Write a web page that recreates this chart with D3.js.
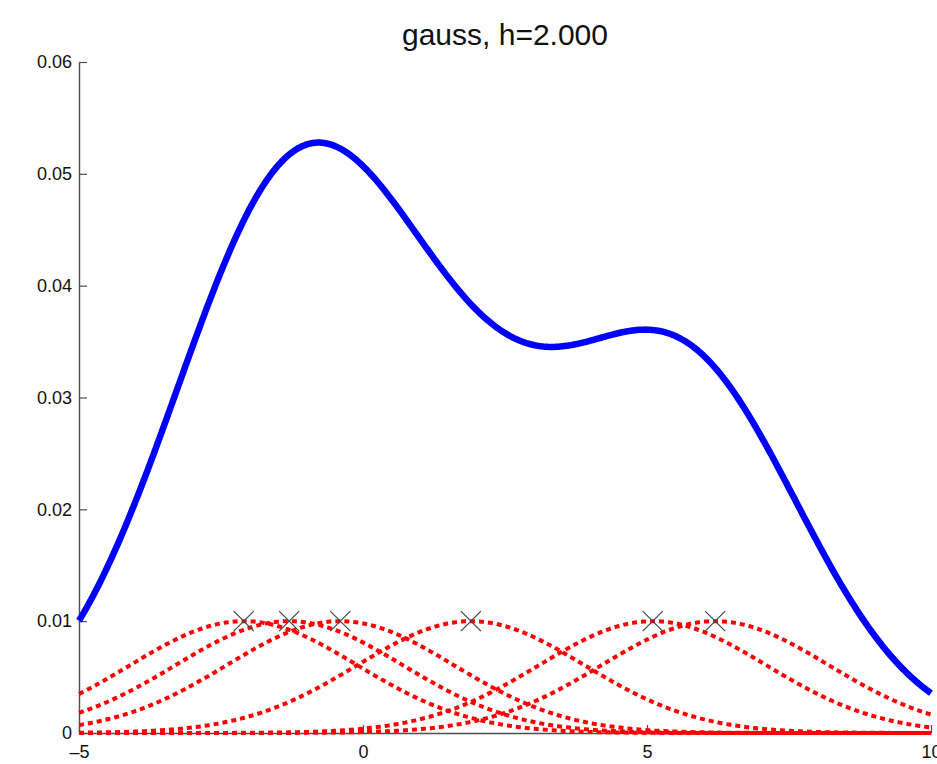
<!DOCTYPE html>
<html>
<head>
<meta charset="utf-8">
<script src="https://cdn.jsdelivr.net/npm/d3@7"></script>
<style>
  html, body { margin: 0; padding: 0; background: #fff; }
  svg { display: block; font-family: "Liberation Sans", Arial, Helvetica, sans-serif; }
</style>
</head>
<body>
<svg id="chart" width="937" height="764"></svg>
<script>
// Sample points for the Parzen-window (kernel density) estimate
const samples = [-2.1, -1.3, -0.4, 1.9, 5.1, 6.2];
// Kernel name and bandwidth
const kernelName = "gauss";
const bandwidth = 2;
// Height of each individually drawn kernel bump and of the sample markers
const kernelPeak = 0.01;
// Axis domains and tick labels
const xDomain = [-5, 10];
const yDomain = [0, 0.06];
const xTicks = [-5, 0, 5, 10];
const yTicks = [0, 0.01, 0.02, 0.03, 0.04, 0.05, 0.06];

const svg = d3.select("#chart");
const margin = { left: 79, right: 6, top: 62, bottom: 31 };
const W = 937, H = 764;

const x = d3.scaleLinear().domain(xDomain).range([margin.left, W - margin.right]);
const y = d3.scaleLinear().domain(yDomain).range([H - margin.bottom, margin.top]);

// Gaussian kernel density with standard deviation = bandwidth
const gauss = (u, mu, s) => Math.exp(-0.5 * ((u - mu) / s) ** 2) / (Math.sqrt(2 * Math.PI) * s);
const n = samples.length;
const grid = d3.range(0, 401).map(i => xDomain[0] + (xDomain[1] - xDomain[0]) * i / 400);
const density = grid.map(u => [u, d3.sum(samples, s => gauss(u, s, bandwidth)) / (n * bandwidth)]);
const peakGauss = gauss(0, 0, bandwidth);
const bumps = samples.map(s => grid.map(u => [u, kernelPeak * gauss(u, s, bandwidth) / peakGauss]));

const line = d3.line().x(d => x(d[0])).y(d => y(d[1]));

// Title
svg.append("text")
  .attr("x", (x.range()[0] + x.range()[1]) / 2)
  .attr("y", 45)
  .attr("text-anchor", "middle")
  .attr("font-size", 30)
  .attr("fill", "#111")
  .text(`${kernelName}, h=${bandwidth.toFixed(3)}`);

// Axes (ticks point inward)
const axisColor = "#4d4d4d";
const fmtX = d => (d < 0 ? "\u2013" + Math.abs(d) : String(d));
const gx = svg.append("g").attr("transform", `translate(0,${y(0)})`)
  .call(d3.axisBottom(x).tickValues(xTicks).tickSizeInner(-8).tickSizeOuter(0).tickPadding(12).tickFormat(fmtX));
const gy = svg.append("g").attr("transform", `translate(${x(xDomain[0])},0)`)
  .call(d3.axisLeft(y).tickValues(yTicks).tickSizeInner(-8).tickSizeOuter(0).tickPadding(7)
    .tickFormat(d => d === 0 ? "0" : d3.format(".2f")(d)));
[gx, gy].forEach(g => {
  g.select(".domain").attr("stroke", axisColor).attr("stroke-width", 1.4);
  g.selectAll(".tick line").attr("stroke", axisColor).attr("stroke-width", 1.2);
  g.selectAll(".tick text").attr("font-size", 18).attr("fill", "#111")
    .attr("font-family", "'Liberation Sans', Arial, Helvetica, sans-serif");
});
gx.selectAll(".tick text").attr("dy", "0.71em");

// Density estimate
svg.append("path")
  .datum(density)
  .attr("fill", "none")
  .attr("stroke", "#0000ff")
  .attr("stroke-width", 6.5)
  .attr("stroke-linejoin", "round")
  .attr("d", line);

// Individual kernels
svg.append("g").selectAll("path")
  .data(bumps)
  .join("path")
  .attr("fill", "none")
  .attr("stroke", "#ff0000")
  .attr("stroke-width", 4)
  .attr("stroke-dasharray", "5,4")
  .attr("d", line);

// Sample markers
const m = 10;
svg.append("g").selectAll("path")
  .data(samples)
  .join("path")
  .attr("fill", "none")
  .attr("stroke", "#444")
  .attr("stroke-width", 1.2)
  .attr("d", s => {
    const cx = x(s), cy = y(kernelPeak);
    return `M${cx - m},${cy - m}L${cx + m},${cy + m}M${cx - m},${cy + m}L${cx + m},${cy - m}`;
  });
</script>
</body>
</html>
